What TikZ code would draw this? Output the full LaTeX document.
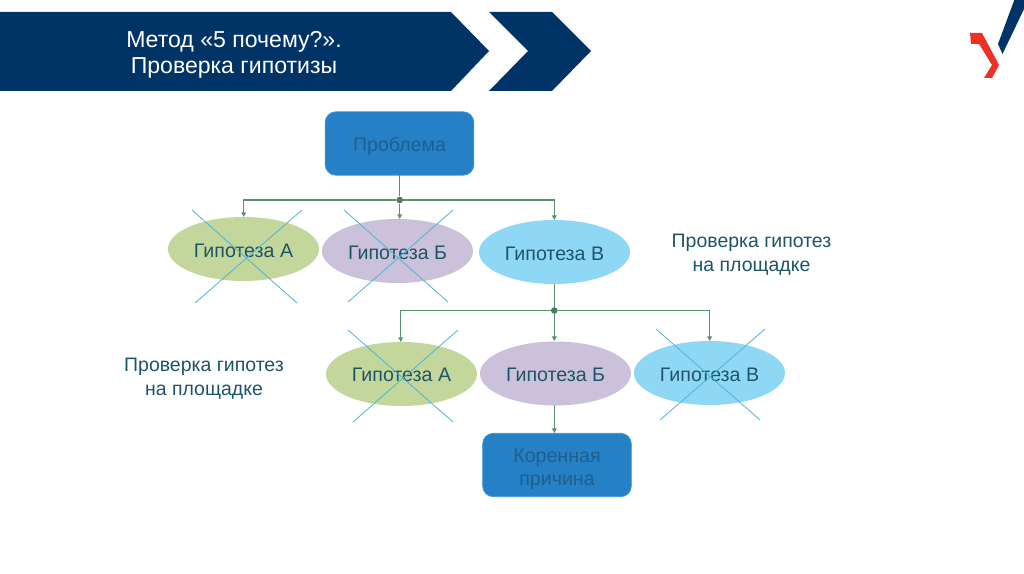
\documentclass[tikz,border=0pt]{standalone}
\usepackage{fontspec}
\setmainfont{Liberation Sans}
\usetikzlibrary{shapes.geometric,arrows.meta}
\definecolor{navy}{HTML}{003366}
\definecolor{logored}{HTML}{EE3124}
\definecolor{rectblue}{HTML}{2680C6}
\definecolor{rectedge}{HTML}{3D96D6}
\definecolor{ellgreen}{HTML}{C3D69B}
\definecolor{elllilac}{HTML}{CCC1DA}
\definecolor{ellsky}{HTML}{8ED8F6}
\definecolor{linkgreen}{HTML}{5C9170}
\definecolor{crossblue}{HTML}{4DB5D3}
\definecolor{hyptext}{HTML}{1D5468}
\definecolor{boxtext}{HTML}{1E5F8C}
\newcommand{\tstrut}[1]{\rule{0pt}{#1}}
\tikzset{
  x=0.75pt,y=-0.75pt,
  hyp/.style={ellipse,minimum width=113.25pt,minimum height=48pt,inner sep=0pt,text=hyptext,font=\fontsize{14.7pt}{17pt}\selectfont},
  hgreen/.style={hyp,fill=ellgreen},
  hlilac/.style={hyp,fill=elllilac},
  hsky/.style={hyp,fill=ellsky},
  boxnode/.style={rectangle,rounded corners=8pt,fill=rectblue,draw=rectedge,line width=0.6pt,minimum width=111.5pt,minimum height=47.5pt,inner sep=0pt,align=center,text=boxtext,font=\fontsize{14.7pt}{17.5pt}\selectfont},
  note/.style={align=center,text=hyptext,font=\fontsize{14.6pt}{18pt}\selectfont,inner sep=0pt},
  link/.style={draw=linkgreen,line width=0.9pt},
  linkarrow/.style={link,-{Triangle[length=3.5pt,width=3.5pt]}},
  junction/.style={circle,fill=linkgreen!85!black,inner sep=0pt,minimum size=5pt},
  crossline/.style={draw=crossblue,line width=0.6pt},
  banner/.style={fill=navy,draw=none},
  title/.style={align=center,text=white,font=\fontsize{17.3pt}{19.5pt}\selectfont,inner sep=0pt}
}
\begin{document}
\begin{tikzpicture}
\useasboundingbox[fill=white] (0,0) rectangle (1024,574);
% banner
\path[banner] (0,12) -- (451,12) -- (489,51) -- (451,91) -- (0,91) -- cycle;
\path[banner] (489,12) -- (552,12) -- (591,51) -- (552,91) -- (489,91) -- (528,51) -- cycle;
\node[title] (ttl) at (234,52) {\tstrut{16.6pt}Метод «5 почему?».\\Проверка гипотизы};
% logo
\path[fill=logored] (970,33) -- (982,33) -- (999,65) -- (992,78) -- (984,78) -- (992,65) -- (979,44) -- (971,44) -- cycle;
\path[fill=navy] (1014.3,0) -- (1024,0) -- (1024,9) -- (1002.5,54) -- (998,44) -- cycle;
% nodes
\node[boxnode] (prob) at (399.5,143.5) {\tstrut{15.3pt}Проблема};
\node[hgreen] (a1) at (243.5,249) {\tstrut{12.8pt}Гипотеза А};
\node[hlilac] (b1) at (397.5,251) {\tstrut{12.8pt}Гипотеза Б};
\node[hsky] (c1) at (554.5,252) {\tstrut{12.8pt}Гипотеза В};
\node[hgreen] (a2) at (401.5,374) {\tstrut{11.5pt}Гипотеза А};
\node[hlilac] (b2) at (555.5,373.5) {\tstrut{12.3pt}Гипотеза Б};
\node[hsky] (c2) at (709.5,373) {\tstrut{12.3pt}Гипотеза В};
\node[boxnode] (root) at (557,465) {\tstrut{16.8pt}Коренная\\причина};
\node[note] (n1) at (751.5,254.5) {Проверка гипотез\\на площадке};
\node[note] (n2) at (204,378.5) {Проверка гипотез\\на площадке};
% connectors
\node[junction] (j1) at (399.7,200) {};
\node[junction] (j2) at (554.3,310.5) {};
\coordinate (p1) at (399.7,175.5);
\draw[link] (p1) -- (j1);
\coordinate (t1a) at (243.7,217);
\coordinate (t1b) at (399.7,219);
\coordinate (t1c) at (554.3,220);
\draw[linkarrow] (j1) -| (t1a);
\draw[linkarrow] (j1) -- (t1b);
\draw[linkarrow] (j1) -| (t1c);
\coordinate (p2) at (554.3,284);
\draw[link] (p2) -- (j2);
\coordinate (t2a) at (400.7,342);
\coordinate (t2b) at (554.3,341);
\coordinate (t2c) at (709.7,341);
\draw[linkarrow] (j2) -| (t2a);
\draw[linkarrow] (j2) -- (t2b);
\draw[linkarrow] (j2) -| (t2c);
\coordinate (p3) at (554.3,405);
\coordinate (t3) at (554.3,433);
\draw[linkarrow] (p3) -- (t3);
% crosses
\coordinate (x1a) at (192,210); \coordinate (x1b) at (297,303);
\coordinate (x1c) at (302,210); \coordinate (x1d) at (195,303);
\draw[crossline] (x1a) -- (x1b); \draw[crossline] (x1c) -- (x1d);
\coordinate (x2a) at (344,210); \coordinate (x2b) at (448,302);
\coordinate (x2c) at (453,210); \coordinate (x2d) at (348,302);
\draw[crossline] (x2a) -- (x2b); \draw[crossline] (x2c) -- (x2d);
\coordinate (x3a) at (348,330); \coordinate (x3b) at (453,422);
\coordinate (x3c) at (458,330); \coordinate (x3d) at (353,422);
\draw[crossline] (x3a) -- (x3b); \draw[crossline] (x3c) -- (x3d);
\coordinate (x4a) at (656,329); \coordinate (x4b) at (760,420);
\coordinate (x4c) at (765,329); \coordinate (x4d) at (660,420);
\draw[crossline] (x4a) -- (x4b); \draw[crossline] (x4c) -- (x4d);
\end{tikzpicture}
\end{document}
